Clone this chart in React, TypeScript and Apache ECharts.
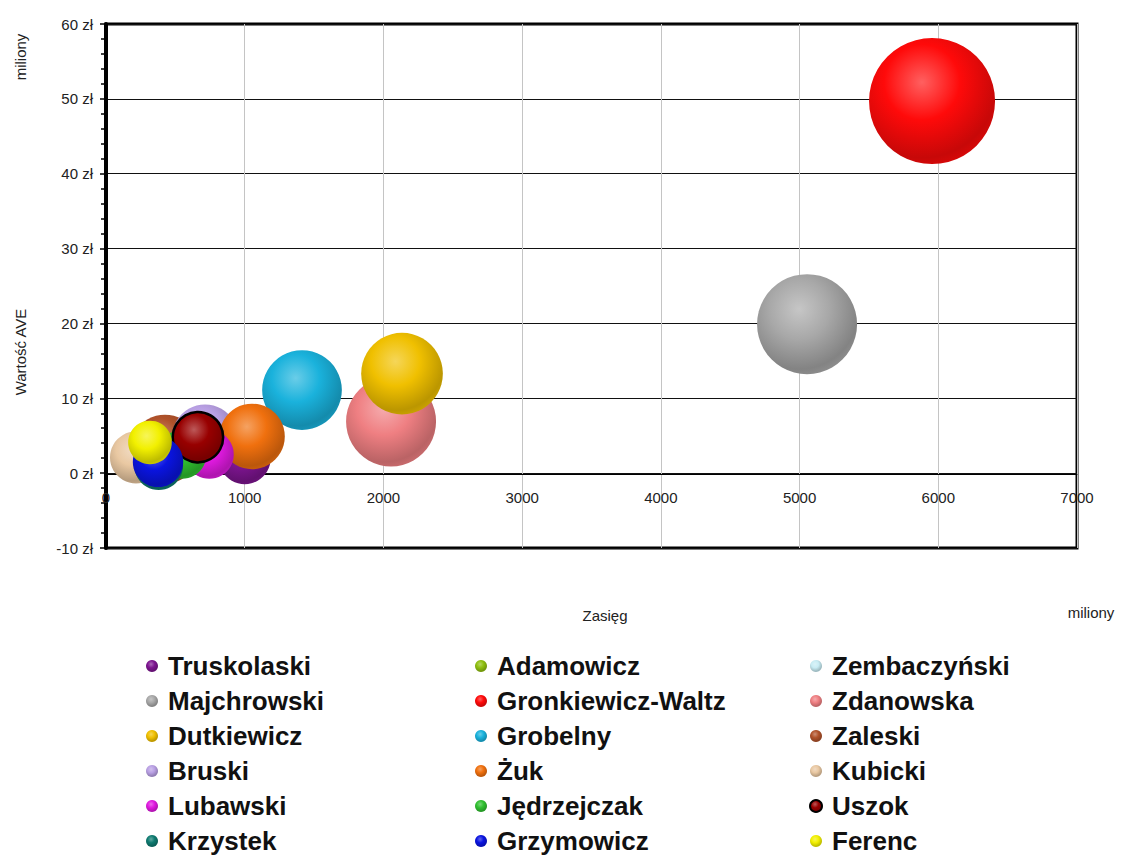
import React, { useEffect, useRef } from "react";
import * as echarts from "echarts";

const names = [
  "Truskolaski", "Adamowicz", "Zembaczyński",
  "Majchrowski", "Gronkiewicz-Waltz", "Zdanowska",
  "Dutkiewicz", "Grobelny", "Zaleski",
  "Bruski", "Żuk", "Kubicki",
  "Lubawski", "Jędrzejczak", "Uszok",
  "Krzystek", "Grzymowicz", "Ferenc",
];
// Zasięg (miliony)
const reach = [1000, 430, 300, 5054, 5955, 2055, 2134, 1413, 425, 714, 1053, 216, 745, 548, 663, 380, 375, 317];
// Wartość AVE (miliony zł)
const ave = [2.0, 3.0, 2.0, 19.9, 49.7, 6.9, 13.3, 11.1, 3.2, 4.8, 4.9, 2.1, 2.5, 2.5, 4.8, 1.0, 1.5, 4.1];
// bubble size (relative)
const bubble = [17, 8, 6, 63, 100, 51, 42, 40, 30, 27, 27, 17, 15, 15, 16, 15, 16, 12];
const colors = [
  "#7d1590", "#8fbf10", "#c8ecf4",
  "#a8a8a8", "#ff0a0a", "#ef7f82",
  "#f0c000", "#1ab2dc", "#b0522a",
  "#b9a0e4", "#f0700e", "#e9c8a2",
  "#e01ae0", "#30c030", "#980000",
  "#0e7a70", "#0a14e0", "#f2f000",
];
const xTicks = { min: 0, max: 7000, interval: 1000 };
const yTicks = { min: -10, max: 60, interval: 10 };

const legendCols = [
  ["Truskolaski", "Majchrowski", "Dutkiewicz", "Bruski", "Lubawski", "Krzystek"],
  ["Adamowicz", "Gronkiewicz-Waltz", "Grobelny", "Żuk", "Jędrzejczak", "Grzymowicz"],
  ["Zembaczyński", "Zdanowska", "Zaleski", "Kubicki", "Uszok", "Ferenc"],
];

function mix(hex: string, target: string, t: number) {
  const p = (h: string) => [1, 3, 5].map((i) => parseInt(h.slice(i, i + 2), 16));
  const a = p(hex), b = p(target);
  const c = a.map((v, i) => Math.round(v + (b[i] - v) * t));
  return `rgb(${c[0]},${c[1]},${c[2]})`;
}

function sphere(hex: string) {
  return new echarts.graphic.RadialGradient(0.42, 0.35, 0.75, [
    { offset: 0, color: mix(hex, "#ffffff", 0.35) },
    { offset: 0.4, color: hex },
    { offset: 0.8, color: mix(hex, "#000000", 0.22) },
    { offset: 1, color: mix(hex, "#000000", 0.1) },
  ]);
}

const FONT = "Liberation Sans, Arial, sans-serif";

export default function App() {
  const ref = useRef<HTMLDivElement>(null);
  useEffect(() => {
    const chart = echarts.init(ref.current!, undefined, { renderer: "svg" });
    const series = names.map((n, i) => ({
      type: "scatter",
      name: n,
      data: [[reach[i], ave[i], bubble[i]]],
      symbolSize: (d: number[]) => 126 * Math.sqrt(d[2] / 100),
      itemStyle: {
        color: sphere(colors[i]),
        borderColor: n === "Uszok" ? "#000" : "transparent",
        borderWidth: n === "Uszok" ? 2.5 : 0,
        opacity: 1,
      },
      emphasis: { disabled: true },
    }));
    chart.setOption({
      animation: false,
      backgroundColor: "#fff",
      grid: {
        left: 106, right: 49, top: 24, bottom: 314,
        show: true, borderColor: "#000", borderWidth: 3, backgroundColor: "transparent",
      },
      xAxis: {
        type: "value",
        ...xTicks,
        offset: -74,
        axisLine: { show: true, onZero: false, lineStyle: { color: "#000", width: 1 } },
        axisTick: { show: false },
        axisLabel: { color: "#222", fontSize: 15, fontFamily: FONT, margin: 16, formatter: (v: number) => String(v) },
        splitLine: { show: true, lineStyle: { color: "#c4c4c4", width: 1 } },
      },
      yAxis: {
        type: "value",
        ...yTicks,
        axisLine: { show: true, onZero: false, lineStyle: { color: "#000", width: 4 } },
        axisTick: { show: true, length: 6, lineStyle: { color: "#000", width: 1.5 } },
        minorTick: { show: true, splitNumber: 5, length: 5, lineStyle: { color: "#000", width: 1.5 } },
        axisLabel: { color: "#222", fontSize: 15, fontFamily: FONT, margin: 13, formatter: "{value} zł" },
        splitLine: { show: true, lineStyle: { color: "#111", width: 1 } },
      },
      legend: legendCols.map((col, ci) => ({
        data: col,
        orient: "vertical",
        left: [146, 475, 809][ci],
        top: 653,
        height: 260,
        padding: 0,
        itemWidth: 22,
        itemHeight: 12,
        itemGap: 9,
        icon: "circle",
        selectedMode: false,
        textStyle: { fontSize: 26, fontWeight: "bold", fontFamily: FONT, color: "#111" },
      })),
      graphic: [
        { type: "text", x: 20, y: 352, rotation: Math.PI / 2, style: { text: "Wartość AVE", fontSize: 15, fontFamily: FONT, fill: "#222", align: "center", verticalAlign: "middle" } },
        { type: "text", x: 20, y: 57, rotation: Math.PI / 2, style: { text: "miliony", fontSize: 15, fontFamily: FONT, fill: "#222", align: "center", verticalAlign: "middle" } },
        { type: "text", x: 605, y: 615, style: { text: "Zasięg", fontSize: 15, fontFamily: FONT, fill: "#222", align: "center", verticalAlign: "middle" } },
        { type: "text", x: 1091, y: 612, style: { text: "miliony", fontSize: 15, fontFamily: FONT, fill: "#222", align: "center", verticalAlign: "middle" } },
      ],
      series,
    });
    return () => chart.dispose();
  }, []);
  return <div ref={ref} style={{ position: "fixed", left: 0, top: 0, width: 1126, height: 862 }} />;
}
